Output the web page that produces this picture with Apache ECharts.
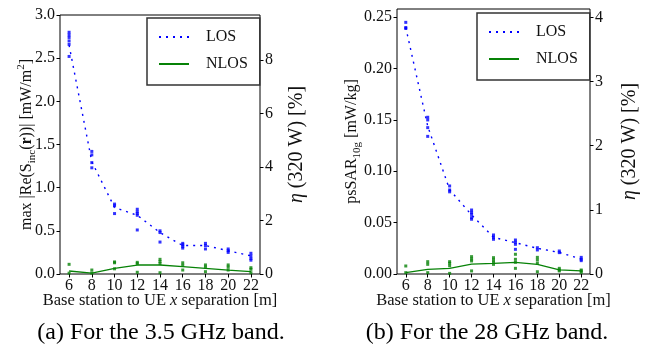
<!DOCTYPE html>
<html>
<head>
<meta charset="utf-8">
<script src="https://cdn.jsdelivr.net/npm/echarts@6/dist/echarts.min.js"></script>
<style>
  html, body { margin: 0; padding: 0; background: #fff; }
  #chart { width: 650px; height: 355px; }
</style>
</head>
<body>
<div id="chart"></div>
<script>
// Base station to UE x separation [m]
const separations = [6, 8, 10, 12, 14, 16, 18, 20, 22];
const xTicks = [6, 8, 10, 12, 14, 16, 18, 20, 22];

// 3.5 GHz band: max |Re(S_inc)| [mW/m^2]
const los35Mean = [2.65, 1.30, 0.77, 0.68, 0.48, 0.33, 0.33, 0.27, 0.21];
const nlos35Mean = [0.035, 0.010, 0.066, 0.104, 0.104, 0.085, 0.066, 0.046, 0.027];
const los35Samples = [
  [2.80, 2.77, 2.74, 2.70, 2.66, 2.52],
  [1.42, 1.38, 1.29, 1.23],
  [0.81, 0.79, 0.70],
  [0.75, 0.72, 0.70, 0.68, 0.51],
  [0.50, 0.48, 0.37],
  [0.355, 0.34, 0.32, 0.30],
  [0.355, 0.33, 0.29],
  [0.29, 0.27, 0.25],
  [0.24, 0.21, 0.18, 0.16]
];
const nlos35Samples = [
  [0.112, 0.01],
  [0.046, 0.01],
  [0.14, 0.13, 0.06],
  [0.135, 0.12, 0.02],
  [0.17, 0.145, 0.12, 0.015],
  [0.13, 0.10, 0.046],
  [0.105, 0.08, 0.027],
  [0.105, 0.08, 0.046],
  [0.073, 0.054, 0.015]
];

// 28 GHz band: psSAR_10g [mW/kg]
const los28Mean = [0.240, 0.144, 0.082, 0.0575, 0.0357, 0.0305, 0.025, 0.021, 0.0145];
const nlos28Mean = [0.0013, 0.0045, 0.0055, 0.0097, 0.0104, 0.0114, 0.0094, 0.004, 0.003];
const los28Samples = [
  [0.245, 0.240, 0.239],
  [0.1526, 0.150, 0.1425, 0.134],
  [0.0857, 0.0818, 0.080],
  [0.0623, 0.060, 0.058, 0.0549, 0.0533],
  [0.038, 0.0357, 0.0338],
  [0.0331, 0.0309, 0.0289, 0.024],
  [0.0256, 0.0234],
  [0.0224, 0.0208],
  [0.0162, 0.0143, 0.013]
];
const nlos28Samples = [
  [0.0078, 0.0013],
  [0.012, 0.0094, 0.0013],
  [0.012, 0.0104, 0.008, 0.0006],
  [0.0169, 0.0146, 0.0127, 0.003],
  [0.0159, 0.0136, 0.0114, 0.0094],
  [0.0192, 0.0143, 0.0114, 0.0055],
  [0.0162, 0.0136, 0.0104, 0.0022],
  [0.0055, 0.0039, 0.003],
  [0.0039, 0.003, 0.0016]
];

// Axis tick values
const y35Ticks = [0, 0.5, 1.0, 1.5, 2.0, 2.5, 3.0];
const eta35Ticks = [0, 2, 4, 6, 8];
const y28Ticks = [0, 0.05, 0.10, 0.15, 0.20, 0.25];
const eta28Ticks = [0, 1, 2, 3, 4];

const FONT = '"Liberation Serif", "DejaVu Serif", serif';
const BLUE = '#0000ff';
const GREEN = '#078207';

function pairs(ys) { return separations.map((x, i) => [x, ys[i]]); }
function samplePairs(groups) {
  const out = [];
  groups.forEach((g, i) => g.forEach(v => out.push([separations[i], v])));
  return out;
}

const tickLabel = { fontFamily: FONT, fontSize: 16, color: '#111' };
const nameRich = {
  n: { fontFamily: FONT, fontSize: 16, color: '#111', lineHeight: 22, verticalAlign: 'middle' },
  sub: { fontFamily: FONT, fontSize: 11, color: '#111', lineHeight: 11, verticalAlign: 'bottom' },
  sup: { fontFamily: FONT, fontSize: 11, color: '#111', lineHeight: 11, verticalAlign: 'top' },
  b: { fontFamily: FONT, fontSize: 16, fontWeight: 'bold', color: '#111', lineHeight: 22, verticalAlign: 'middle' },
  eta: { fontFamily: FONT, fontSize: 20, fontStyle: 'italic', color: '#111', lineHeight: 24, verticalAlign: 'middle' },
  e: { fontFamily: FONT, fontSize: 20, color: '#111', lineHeight: 24, verticalAlign: 'middle' },
  i: { fontFamily: FONT, fontSize: 16.5, fontStyle: 'italic', color: '#111', lineHeight: 20, verticalAlign: 'middle' },
  x: { fontFamily: FONT, fontSize: 16.5, color: '#111', lineHeight: 20, verticalAlign: 'middle' }
};

function xAxisFor(gridIndex) {
  return {
    gridIndex, type: 'value', min: 5.2, max: 22.8,
    axisLine: { show: false }, splitLine: { show: false },
    axisTick: { show: true, customValues: xTicks, length: 3.5, lineStyle: { color: '#000', width: 1 } },
    axisLabel: Object.assign({ customValues: xTicks, margin: 4 }, tickLabel),
    name: '{x|Base station to UE }{i|x}{x| separation [m]}',
    nameLocation: 'middle', nameGap: 17, nameMoveOverlap: false,
    nameTextStyle: { rich: nameRich }
  };
}

function yAxisFor(gridIndex, opts) {
  return Object.assign({
    gridIndex, type: 'value',
    axisLine: { show: false }, splitLine: { show: false },
    axisTick: { show: true, customValues: opts.ticks, length: 3.5, lineStyle: { color: '#000', width: 1 } },
    axisLabel: Object.assign({ customValues: opts.ticks, margin: 5, formatter: opts.fmt }, tickLabel),
    nameLocation: 'middle', nameRotate: 90, nameMoveOverlap: false,
    nameTextStyle: { rich: nameRich }
  }, opts.extra);
}

const etaName = '{eta|η}{e| (320 W) [%]}';

const legendBase = {
  orient: 'vertical',
  data: ['LOS', 'NLOS'],
  itemWidth: 30, itemHeight: 14, itemGap: 11,
  padding: [11, 12, 13, 11],
  borderColor: '#333', borderWidth: 1.5, borderRadius: 0,
  backgroundColor: '#fff',
  selectedMode: false,
  itemStyle: { opacity: 0 },
  textStyle: { fontFamily: FONT, fontSize: 16, color: '#111', padding: [0, 0, 0, 12] }
};

function lineSeries(name, data, xi, yi, color, dotted) {
  return {
    type: 'line', name, data: pairs(data), xAxisIndex: xi, yAxisIndex: yi,
    symbol: 'none', silent: true, z: 3,
    lineStyle: { color, width: dotted ? 1.4 : 1.3, type: dotted ? [2, 5] : 'solid' },
    itemStyle: { color }
  };
}
function pointSeries(name, groups, xi, yi, color) {
  return {
    type: 'scatter', name, data: samplePairs(groups), xAxisIndex: xi, yAxisIndex: yi,
    symbol: 'rect', symbolSize: 3, silent: true, z: 2,
    itemStyle: { color }
  };
}

const option = {
  animation: false,
  backgroundColor: '#fff',
  grid: [
    { left: 60, top: 15, width: 200, height: 259, show: true, borderColor: '#000', borderWidth: 1 },
    { left: 397, top: 9, width: 193, height: 265, show: true, borderColor: '#000', borderWidth: 1 }
  ],
  xAxis: [xAxisFor(0), xAxisFor(1)],
  yAxis: [
    yAxisFor(0, {
      ticks: y35Ticks, fmt: v => v.toFixed(1),
      extra: { min: 0, max: 3.0, name: '{n|max |Re(S}{sub|inc}{n|(}{b|r}{n|))| [mW/m}{sup|2}{n|]}', nameGap: 22 }
    }),
    yAxisFor(0, {
      ticks: eta35Ticks, fmt: v => String(v),
      extra: { min: 0, max: 9.68, position: 'right', name: etaName, nameGap: 25 }
    }),
    yAxisFor(1, {
      ticks: y28Ticks, fmt: v => v.toFixed(2),
      extra: { min: 0, max: 0.258, name: '{n|psSAR}{sub|10g}{n| [mW/kg]}', nameGap: 34 }
    }),
    yAxisFor(1, {
      ticks: eta28Ticks, fmt: v => String(v),
      extra: { min: 0, max: 4.13, position: 'right', name: etaName, nameGap: 28 }
    })
  ],
  legend: [
    Object.assign({ left: 147, top: 18 }, legendBase),
    Object.assign({ left: 477, top: 13 }, legendBase)
  ],
  series: [
    pointSeries('LOS samples 3.5', los35Samples, 0, 0, BLUE),
    pointSeries('NLOS samples 3.5', nlos35Samples, 0, 0, GREEN),
    lineSeries('LOS', los35Mean, 0, 0, BLUE, true),
    lineSeries('NLOS', nlos35Mean, 0, 0, GREEN, false),
    pointSeries('LOS samples 28', los28Samples, 1, 2, BLUE),
    pointSeries('NLOS samples 28', nlos28Samples, 1, 2, GREEN),
    lineSeries('LOS', los28Mean, 1, 2, BLUE, true),
    lineSeries('NLOS', nlos28Mean, 1, 2, GREEN, false)
  ],
  graphic: [
    { type: 'text', x: 161, y: 333, style: { text: '(a) For the 3.5 GHz band.', font: '24px ' + FONT, fill: '#000', align: 'center', verticalAlign: 'middle' } },
    { type: 'text', x: 487, y: 333, style: { text: '(b) For the 28 GHz band.', font: '24px ' + FONT, fill: '#000', align: 'center', verticalAlign: 'middle' } }
  ]
};

const chart = echarts.init(document.getElementById('chart'), null, { renderer: 'canvas' });
chart.setOption(option);
</script>
</body>
</html>
